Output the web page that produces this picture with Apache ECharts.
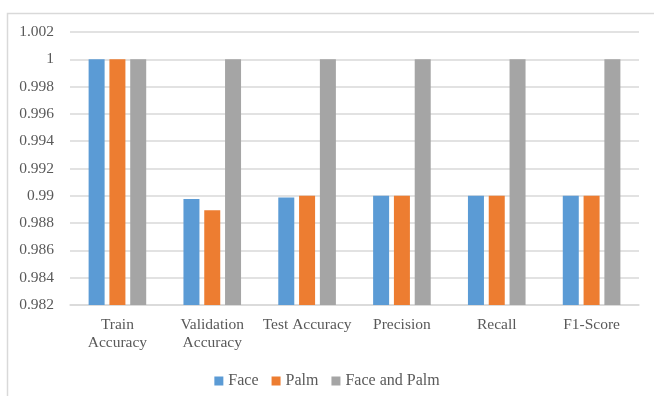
<!DOCTYPE html>
<html>
<head>
<meta charset="utf-8">
<script src="https://cdn.jsdelivr.net/npm/echarts@6/dist/echarts.min.js"></script>
<style>
  html, body { margin: 0; padding: 0; background: #fff; }
  #chart { width: 654px; height: 396px; }
</style>
</head>
<body>
<div id="chart"></div>
<script>
// Metric names along the x axis
const categories = ['Train\nAccuracy', 'Validation\nAccuracy', 'Test Accuracy', 'Precision', 'Recall', 'F1-Score'];
// Scores per model
const faceValues = [1, 0.98976, 0.98988, 0.99, 0.99, 0.99];
const palmValues = [1, 0.98895, 0.99, 0.99, 0.99, 0.99];
const faceAndPalmValues = [1, 1, 1, 1, 1, 1];
const seriesNames = ['Face', 'Palm', 'Face and Palm'];
// Value axis range
const yMin = 0.982, yMax = 1.002, yStep = 0.002;

const chart = echarts.init(document.getElementById('chart'));
const labelFont = 'Liberation Serif, Times New Roman, serif';
chart.setOption({
  animation: false,
  color: ['#5B9BD5', '#ED7D31', '#A5A5A5'],
  graphic: [{
    // chart frame: left and top edges only fall inside the canvas
    type: 'rect',
    shape: { x: 7.5, y: 13.5, width: 700, height: 420 },
    style: { fill: 'none', stroke: '#d9d9d9', lineWidth: 1.5 },
    silent: true
  }],
  grid: { left: 70, right: 15, top: 32, bottom: 91 },
  legend: {
    top: 368,
    left: 'center',
    itemWidth: 9,
    itemHeight: 9,
    itemGap: 13,
    icon: 'rect',
    textStyle: { fontFamily: labelFont, fontSize: 16, color: '#595959' },
    data: seriesNames
  },
  xAxis: {
    type: 'category',
    data: categories,
    axisLine: { lineStyle: { color: '#d9d9d9', width: 1.5 } },
    axisTick: { show: false },
    axisLabel: { fontFamily: labelFont, fontSize: 15.5, color: '#595959', margin: 11, lineHeight: 18, interval: 0 }
  },
  yAxis: {
    type: 'value',
    min: yMin,
    max: yMax,
    interval: yStep,
    axisLine: { show: false },
    axisTick: { show: false },
    splitLine: { lineStyle: { color: '#d9d9d9', width: 1.5 } },
    axisLabel: {
      fontFamily: labelFont, fontSize: 15.5, color: '#595959', margin: 16,
      formatter: v => String(parseFloat(v.toFixed(3)))
    }
  },
  series: [
    { name: seriesNames[0], type: 'bar', data: faceValues, barWidth: 16, barGap: '30%', barCategoryGap: '38%' },
    { name: seriesNames[1], type: 'bar', data: palmValues, barWidth: 16, barGap: '30%' },
    { name: seriesNames[2], type: 'bar', data: faceAndPalmValues, barWidth: 16, barGap: '30%' }
  ]
});
</script>
</body>
</html>
